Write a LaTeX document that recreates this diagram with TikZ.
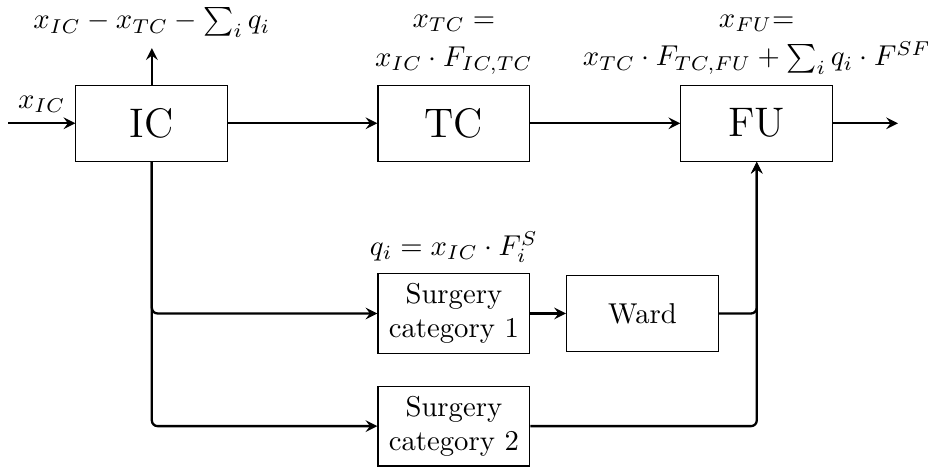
\documentclass[tikz,border=0pt]{standalone}
\usepackage{amsmath}
\usetikzlibrary{positioning}

\begin{document}
\begin{tikzpicture}[
    >=stealth,
    block/.style={draw, minimum width=1.86cm, minimum height=0.93cm},
    flow/.style={->, thick, rounded corners=2pt}
  ]
    \useasboundingbox (-1.86,1.51) rectangle (9.52,-4.20);
    % main chain
    \node[block] (ic) at (0,0) {\Large IC};
    \node[block] (tc) at (3.70,0) {\Large TC};
    \node[block] (fu) at (7.41,0) {\Large FU};
    % surgery branch
    \node[block, align=center] (sc1) at (3.70,-2.33) {Surgery\\category 1};
    \node[block] (ward) at (6.01,-2.33) {Ward};
    \node[block, align=center] (sc2) at (3.70,-3.71) {Surgery\\category 2};
    \coordinate (in) at (-1.76,0);
    \coordinate (out) at (9.14,0);
    \coordinate (up) at (0,0.92);
    \draw[flow] (in) -- node[above] {$x_{IC}$} (ic);
    \draw[flow] (ic) -- (up) node[above] {$x_{IC} - x_{TC} - \sum_i q_i$};
    \draw[flow] (ic) -- (tc);
    \draw[flow] (tc) -- (fu);
    \draw[flow] (fu) -- (out);
    \node[above, align=center] (tclabel) at (tc.north) {$x_{TC} =$\\[1.5pt]$x_{IC}\cdot F_{IC,TC}$};
    \node[above, align=center] (fulabel) at (fu.north) {$x_{FU}$=\\[1.5pt]$x_{TC}\cdot F_{TC,FU} + \sum_i q_i \cdot F^{SF}$};
    \node[above] (qlabel) at (sc1.north) {$q_i = x_{IC}\cdot F_i^S$};
    \draw[flow] (ic.south) |- (sc1.west);
    \draw[flow] (ic.south) |- (sc2.west);
    \draw[flow] (sc1) -- (ward);
    \draw[flow] (ward.east) -| (fu.south);
    \draw[flow] (sc2.east) -| (fu.south);
\end{tikzpicture}
\end{document}
